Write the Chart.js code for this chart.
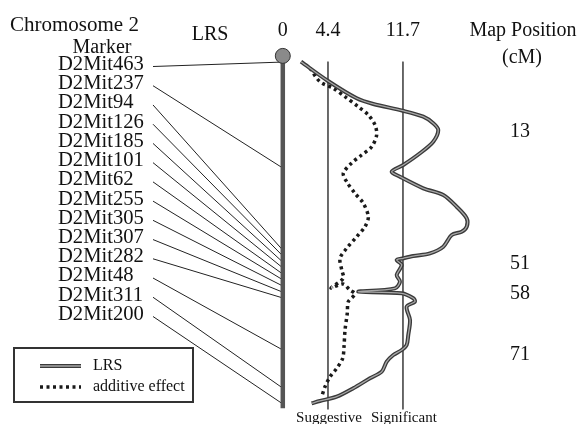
<!DOCTYPE html>
<html>
<head>
<meta charset="utf-8">
<script src="https://cdn.jsdelivr.net/npm/chart.js@4"></script>
<style>
  html, body { margin: 0; padding: 0; background: #fff; }
  canvas { display: block; }
</style>
</head>
<body>
<canvas id="qtl" width="581" height="424"></canvas>
<script>
// marker names and where each one sits on the chromosome (map units, top = 0 side)
const markerNames = ['D2Mit463', 'D2Mit237', 'D2Mit94', 'D2Mit126', 'D2Mit185', 'D2Mit101', 'D2Mit62',
  'D2Mit255', 'D2Mit305', 'D2Mit307', 'D2Mit282', 'D2Mit48', 'D2Mit311', 'D2Mit200'];
const markerPos = [-4.9, 22.6, 43.9, 45.4, 47.0, 48.5, 50.1, 51.6, 53.2, 54.8, 56.3, 69.8, 79.7, 83.8];

// LRS trace (x = LRS, y = map position)
const lrsValue = [1.77, 4.37, 7.20, 8.81, 11.67, 13.68, 14.65, 15.14, 14.65, 13.36, 11.73, 10.60, 11.41, 13.68,
  15.63, 16.93, 17.91, 17.91, 17.42, 16.45, 15.63, 14.33, 12.71, 11.73, 11.09, 11.58, 11.09, 11.41, 10.92,
  7.35, 11.58, 12.71, 12.87, 12.06, 12.39, 12.22, 12.06, 11.58, 10.76, 10.12, 9.63, 8.49, 6.86, 5.25, 3.62, 2.81];
const lrsPos = [-4.99, -0.06, 4.50, 5.98, 7.72, 9.28, 10.99, 12.73, 15.76, 18.77, 21.81, 23.54, 24.84, 27.85,
  29.59, 32.63, 35.64, 37.81, 39.11, 39.97, 43.00, 44.72, 45.42, 46.01, 46.45, 47.75, 50.35, 52.08, 53.80,
  54.68, 55.09, 56.39, 57.27, 58.57, 62.02, 65.91, 68.51, 69.80, 71.10, 72.84, 75.43, 77.14, 79.74, 81.92, 83.03, 83.63];

// additive effect trace
const addValue = [2.65, 3.62, 4.92, 6.06, 7.35, 8.33, 8.98, 9.14, 8.66, 7.68, 6.71, 5.89, 6.22, 7.03, 7.84,
  8.33, 8.00, 7.20, 6.22, 5.57, 5.74, 5.89, 4.69, 5.86, 6.54, 7.03, 6.38, 6.28, 6.06, 5.96, 5.83, 5.25, 4.60, 4.11, 3.79];
const addPos = [-3.28, 0.20, 1.91, 4.09, 6.68, 8.84, 11.43, 14.02, 17.06, 19.21, 21.29, 23.96, 26.14, 29.15, 31.74,
  35.22, 37.81, 40.41, 43.42, 46.01, 49.05, 51.20, 53.72, 52.68, 54.24, 55.27, 57.27, 60.28, 64.61, 68.95, 71.96,
  74.55, 76.73, 79.33, 81.92];

const thresholds = [4.4, 11.7];
const thresholdNames = ['Suggestive', 'Significant'];
const lrsTicks = [0, 4.4, 11.7];
const chromTop = -6.5;
const chromBottom = 84.9;
const mapLabels = ['13', '51', '58', '71'];
const mapLabelPos = [13.0, 47.2, 55.0, 70.8];

const serif = '"Liberation Serif", "Times New Roman", serif';
const ink = '#111';

function toPoints(xs, ys) {
  return xs.map((x, i) => ({ x: x, y: ys[i] }));
}

const lrsPoints = toPoints(lrsValue, lrsPos);
const addPoints = toPoints(addValue, addPos);

// datasets: first in the list is drawn on top
const datasets = [
  {
    label: 'centromere',
    data: [{ x: 0, y: chromTop }],
    pointRadius: 7.5,
    pointBackgroundColor: '#8a8a8a',
    pointBorderColor: '#333',
    pointBorderWidth: 1,
    showLine: false
  },
  {
    label: 'LRS inner',
    data: lrsPoints,
    borderColor: '#a8a8a8',
    borderWidth: 1.3,
    tension: 0.3,
    pointRadius: 0,
    showLine: true
  },
  {
    label: 'LRS',
    data: lrsPoints,
    borderColor: '#3a3a3a',
    borderWidth: 4,
    tension: 0.3,
    pointRadius: 0,
    showLine: true
  },
  {
    label: 'additive effect',
    data: addPoints,
    borderColor: '#1a1a1a',
    borderWidth: 3.5,
    borderDash: [3, 3.5],
    borderCapStyle: 'butt',
    tension: 0.3,
    pointRadius: 0,
    showLine: true
  },
  {
    label: 'chromosome',
    data: [{ x: 0, y: chromTop }, { x: 0, y: chromBottom }],
    borderColor: '#555',
    borderWidth: 4.5,
    pointRadius: 0,
    showLine: true
  }
].concat(thresholds.map(t => ({
  label: 'threshold ' + t,
  data: [{ x: t, y: -5 }, { x: t, y: 85.2 }],
  borderColor: '#555',
  borderWidth: 1,
  pointRadius: 0,
  showLine: true
})));

const rowTop = 64.5;
const rowGap = 19.23;

const textPlugin = {
  id: 'qtlText',
  beforeDatasetsDraw(chart) {
    const ctx = chart.ctx;
    const xs = chart.scales.x;
    const ys = chart.scales.y;
    ctx.save();
    ctx.strokeStyle = '#222';
    ctx.lineWidth = 1;
    markerPos.forEach((p, i) => {
      ctx.beginPath();
      ctx.moveTo(153, rowTop + i * rowGap + 2);
      ctx.lineTo(xs.getPixelForValue(0), ys.getPixelForValue(p));
      ctx.stroke();
    });
    ctx.restore();
  },
  afterDraw(chart) {
    const ctx = chart.ctx;
    const xs = chart.scales.x;
    const ys = chart.scales.y;
    ctx.save();
    ctx.fillStyle = ink;
    ctx.textBaseline = 'middle';

    ctx.textAlign = 'left';
    ctx.font = '21px ' + serif;
    ctx.fillText('Chromosome 2', 10, 25);
    ctx.font = '20.6px ' + serif;
    markerNames.forEach((name, i) => {
      ctx.fillText(name, 58, rowTop + i * rowGap);
    });

    ctx.textAlign = 'center';
    ctx.font = '20px ' + serif;
    ctx.fillText('Marker', 102, 48);
    ctx.fillText('LRS', 210, 35);
    lrsTicks.forEach(t => ctx.fillText(String(t), xs.getPixelForValue(t), 31));
    ctx.fillText('Map Position', 523, 31);
    ctx.fillText('(cM)', 522, 58);
    mapLabels.forEach((lab, i) => ctx.fillText(lab, 520, ys.getPixelForValue(mapLabelPos[i]) + 1));

    ctx.font = '15px ' + serif;
    thresholds.forEach((t, i) => ctx.fillText(thresholdNames[i], xs.getPixelForValue(t) + 1, 418));

    // legend box
    ctx.strokeStyle = '#333';
    ctx.lineWidth = 2;
    ctx.strokeRect(14, 348, 179, 54);

    ctx.lineWidth = 4;
    ctx.strokeStyle = '#3a3a3a';
    ctx.beginPath();
    ctx.moveTo(40, 366);
    ctx.lineTo(81, 366);
    ctx.stroke();
    ctx.lineWidth = 1.3;
    ctx.strokeStyle = '#a8a8a8';
    ctx.stroke();

    ctx.lineWidth = 3.5;
    ctx.strokeStyle = '#1a1a1a';
    ctx.setLineDash([3, 3.5]);
    ctx.beginPath();
    ctx.moveTo(40, 387);
    ctx.lineTo(81, 387);
    ctx.stroke();
    ctx.setLineDash([]);

    ctx.textAlign = 'left';
    ctx.font = '16px ' + serif;
    ctx.fillText('LRS', 93, 366);
    ctx.fillText('additive effect', 93, 387);
    ctx.restore();
  }
};

new Chart(document.getElementById('qtl'), {
  type: 'scatter',
  data: { datasets: datasets },
  options: {
    responsive: false,
    animation: false,
    devicePixelRatio: 1,
    layout: { padding: 0, autoPadding: false },
    scales: {
      x: { type: 'linear', min: -27.54, max: 29.04, display: false },
      y: { type: 'linear', min: -21, max: 89, reverse: true, display: false }
    },
    plugins: {
      legend: { display: false },
      tooltip: { enabled: false }
    }
  },
  plugins: [textPlugin]
});
</script>
</body>
</html>
